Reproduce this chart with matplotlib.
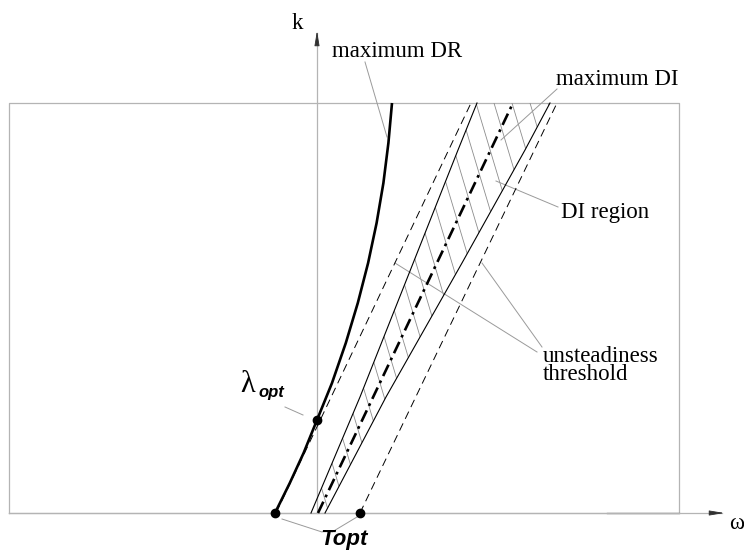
import numpy as np
import matplotlib
matplotlib.use("Agg")
import matplotlib.pyplot as plt
from matplotlib.patches import Polygon

plt.rcParams['lines.scale_dashes'] = False

# frequency / wavenumber plane (omega, k)
frame_w = (-3.08, 3.62)
frame_k = (0.0, 4.10)

# maximum DR curve (thick)
dr_k = [0.00, 0.30, 0.60, 0.93, 1.30, 1.70, 2.10, 2.50, 2.90, 3.30, 3.70, 4.10]
dr_w = [-0.420, -0.272, -0.134, 0.000, 0.150, 0.288, 0.408, 0.511, 0.596, 0.664, 0.714, 0.750]

# unsteadiness thresholds (dashed)
thr_left_w = [-0.41, 1.54]
thr_left_k = [0.00, 4.10]
thr_right_w = [0.43, 2.40]
thr_right_k = [0.00, 4.10]

# DI region boundaries and maximum DI
di_left_w = [-0.06, 0.43, 1.41, 1.60]
di_left_k = [0.00, 1.16, 3.63, 4.10]
di_right_w = [0.08, 0.69, 1.45, 2.08, 2.33]
di_right_k = [0.00, 1.16, 2.50, 3.63, 4.10]
di_max_w = [0.01, 1.96]
di_max_k = [0.00, 4.10]

# optimum points
lam_opt = (0.00, 0.93)
t_opt_w = [-0.42, 0.43]

fig = plt.figure(figsize=(7.44, 5.53), dpi=100)
ax = fig.add_axes([0, 0, 1, 1])
ax.set_xlim(-3.17, 4.27)
ax.set_ylim(-0.40, 5.13)
ax.axis('off')

grey = '#b4b4b4'
lead = '#9a9a9a'

# frame
ax.plot([frame_w[0], frame_w[1], frame_w[1], frame_w[0], frame_w[0]],
        [frame_k[0], frame_k[0], frame_k[1], frame_k[1], frame_k[0]],
        color=grey, lw=0.9, zorder=1)
ax.plot([2.90, frame_w[1]], [0, 0], color='#808080', lw=1.0, zorder=1)

# axes with arrows
ax.plot([frame_w[0], 4.05], [0, 0], color=grey, lw=0.9, zorder=1)
ax.plot([0, 0], [0, 4.80], color=grey, lw=0.9, zorder=1)
ax.annotate('', xy=(4.10, 0), xytext=(3.98, 0),
            arrowprops=dict(arrowstyle='-|>,head_length=0.9,head_width=0.15', color='#303030', lw=0.6))
ax.annotate('', xy=(0, 4.85), xytext=(0, 4.73),
            arrowprops=dict(arrowstyle='-|>,head_length=0.9,head_width=0.15', color='#303030', lw=0.6))

# hatching inside the DI region
band = np.column_stack([di_left_w + di_right_w[::-1], di_left_k + di_right_k[::-1]])
clip = Polygon(band, closed=True, facecolor='none', edgecolor='none')
ax.add_patch(clip)
hatch_step = 0.18
kk = np.array([-0.5, 4.6])
for c in np.arange(0.12, 3.6, hatch_step):
    ln, = ax.plot(c - 0.3 * kk, kk, color='#8c8c8c', lw=0.6, zorder=2)
    ln.set_clip_path(clip)

# curves
ax.plot(dr_w, dr_k, color='black', lw=1.9, zorder=4, solid_capstyle='butt', solid_joinstyle='round')
ax.plot(thr_left_w, thr_left_k, color='black', lw=0.7, dashes=(5.8, 3.6), zorder=3)
ax.plot(thr_right_w, thr_right_k, color='black', lw=0.7, dashes=(5.8, 3.6), zorder=3)
ax.plot(di_left_w, di_left_k, color='black', lw=0.8, zorder=3)
ax.plot(di_right_w, di_right_k, color='black', lw=0.8, zorder=3)
ax.plot(di_max_w, di_max_k, color='black', lw=1.9, dashes=(9, 3.6, 2, 3.6), zorder=3)

# optimum points
ax.plot(t_opt_w, [0, 0], 'o', color='black', ms=6, zorder=5)
ax.plot([lam_opt[0]], [lam_opt[1]], 'o', color='black', ms=6, zorder=5)

# leader lines
leaders = [
    ((0.48, 4.51), (0.70, 3.76)),
    ((2.40, 4.24), (1.84, 3.73)),
    ((2.41, 3.06), (1.79, 3.32)),
    ((2.25, 1.66), (1.65, 2.50)),
    ((2.20, 1.61), (0.78, 2.50)),
    ((-0.32, 1.06), (-0.14, 0.98)),
    ((-0.35, -0.06), (0.05, -0.19)),
    ((0.40, -0.04), (0.15, -0.19)),
]
for (w0, k0), (w1, k1) in leaders:
    ax.plot([w0, w1], [k0, k1], color=lead, lw=0.7, zorder=2)

serif = dict(family='Liberation Serif', fontsize=16.5, color='black')
ax.text(-0.25, 4.84, 'k', ha='left', va='baseline', **serif)
ax.text(4.12, -0.16, 'ω', ha='left', va='baseline', **serif)
ax.text(0.15, 4.56, 'maximum DR', ha='left', va='baseline', **serif)
ax.text(2.39, 4.28, 'maximum DI', ha='left', va='baseline', **serif)
ax.text(2.44, 2.95, 'DI region', ha='left', va='baseline', **serif)
ax.text(2.26, 1.33, 'unsteadiness\nthreshold', ha='left', va='baseline',
        linespacing=0.82, **serif)

ax.text(-0.77, 1.21, 'λ', ha='left', va='baseline', family='Liberation Serif', fontsize=22)
ax.text(-0.59, 1.16, 'opt', ha='left', va='baseline', family='Liberation Sans',
        fontweight='bold', fontstyle='italic', fontsize=12)
ax.text(0.27, -0.32, 'Topt', ha='center', va='baseline', family='Liberation Sans',
        fontweight='bold', fontstyle='italic', fontsize=16)

fig.savefig('out.png', dpi=100)
